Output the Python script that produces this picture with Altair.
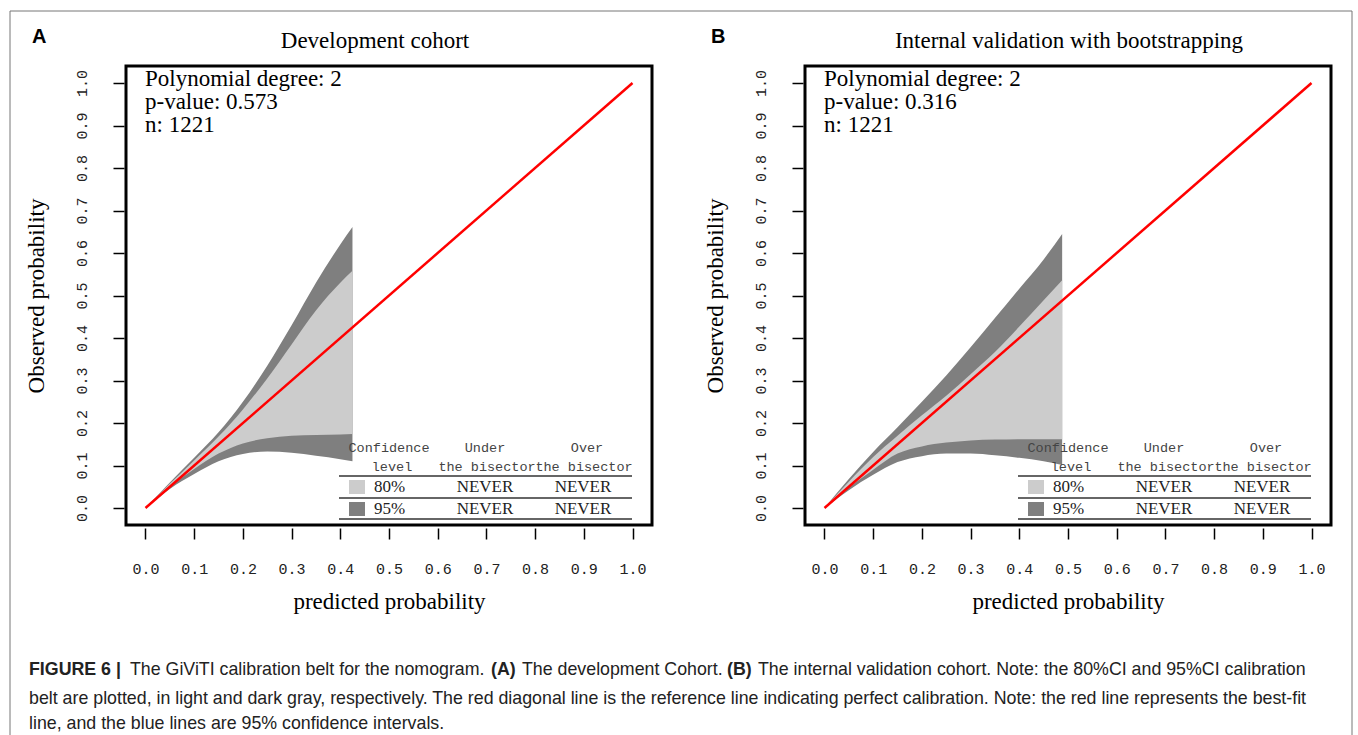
import altair as alt
import pandas as pd

# ---------------- data ----------------
tick_values = [0.0, 0.1, 0.2, 0.3, 0.4, 0.5, 0.6, 0.7, 0.8, 0.9, 1.0]
ref_x = [0.0, 1.0]
ref_y = [0.0, 1.0]

# Panel A: Development cohort (calibration belt)
a_x    = [0.0, 0.05, 0.10, 0.15, 0.20, 0.25, 0.30, 0.35, 0.40, 0.425]
a_up95 = [0.0, 0.060, 0.118, 0.178, 0.250, 0.335, 0.430, 0.530, 0.620, 0.661]
a_up80 = [0.0, 0.057, 0.112, 0.168, 0.232, 0.305, 0.385, 0.465, 0.530, 0.558]
a_lo80 = [0.0, 0.050, 0.092, 0.128, 0.152, 0.164, 0.170, 0.172, 0.173, 0.174]
a_lo95 = [0.0, 0.045, 0.080, 0.110, 0.127, 0.133, 0.130, 0.123, 0.115, 0.110]

# Panel B: Internal validation with bootstrapping
b_x    = [0.0, 0.05, 0.10, 0.15, 0.20, 0.25, 0.30, 0.35, 0.40, 0.45, 0.488]
b_up95 = [0.0, 0.068, 0.132, 0.190, 0.250, 0.312, 0.378, 0.447, 0.516, 0.585, 0.645]
b_up80 = [0.0, 0.062, 0.120, 0.170, 0.218, 0.264, 0.315, 0.367, 0.427, 0.489, 0.536]
b_lo80 = [0.0, 0.048, 0.090, 0.128, 0.145, 0.154, 0.159, 0.161, 0.162, 0.162, 0.162]
b_lo95 = [0.0, 0.042, 0.078, 0.108, 0.122, 0.128, 0.128, 0.124, 0.118, 0.110, 0.101]

titles = ["Development cohort", "Internal validation with bootstrapping"]
letters = ["A", "B"]
stats_a = ["Polynomial degree: 2", "p-value: 0.573", "n: 1221"]
stats_b = ["Polynomial degree: 2", "p-value: 0.316", "n: 1221"]
legend_head = ["Confidence", "level", "Under", "the bisector", "Over", "the bisector"]
legend_levels = ["80%", "95%"]
legend_under = ["NEVER", "NEVER"]
legend_over = ["NEVER", "NEVER"]
caption = [
    "FIGURE 6 |",
    "The GiViTI calibration belt for the nomogram.",
    "(A)",
    "The development Cohort.",
    "(B)",
    "The internal validation cohort. Note: the 80%CI and 95%CI calibration",
    "belt are plotted, in light and dark gray, respectively. The red diagonal line is the reference line indicating perfect calibration. Note: the red line represents the best-fit",
    "line, and the blue lines are 95% confidence intervals.",
]

W, H = 526, 459
SERIF = "Liberation Serif"
MONO = "Liberation Mono"
SANS = "Liberation Sans"

xscale = alt.Scale(domain=[-0.04, 1.04], nice=False, zero=False)
yscale = alt.Scale(domain=[-0.04, 1.04], nice=False, zero=False)

xaxis = alt.Axis(values=tick_values, format=".1f", title="predicted probability",
                 domain=False, grid=False, tickSize=11, tickWidth=1.5, tickColor="black",
                 offset=3, labelFont=MONO, labelFontSize=15, labelColor="#222",
                 labelPadding=22, labelFlush=False, labelOverlap=False,
                 titleFont=SERIF, titleFontSize=23, titleFontWeight="normal",
                 titleColor="black", titlePadding=14)
yaxis = alt.Axis(values=tick_values, format=".1f", title="Observed probability",
                 domain=False, grid=False, tickSize=11, tickWidth=1.5, tickColor="black",
                 offset=2, labelFont=MONO, labelFontSize=15, labelColor="#222",
                 labelAngle=270, labelAlign="center", labelBaseline="bottom",
                 labelPadding=24, labelFlush=False, labelOverlap=False,
                 titleFont=SERIF, titleFontSize=23, titleFontWeight="normal",
                 titleColor="black", titlePadding=26)


def X(f):
    return alt.X(f, type="quantitative", scale=xscale, axis=xaxis)


def Y(f):
    return alt.Y(f, type="quantitative", scale=yscale, axis=yaxis)


ONE = pd.DataFrame({"k": [0]})


def txt(s, x, y, size, font, color="black", align="left", weight="normal"):
    return alt.Chart(pd.DataFrame({"t": [s]})).mark_text(
        align=align, baseline="middle", font=font, fontSize=size,
        color=color, fontWeight=weight).encode(
        x=alt.value(x), y=alt.value(y), text="t:N")


def hline(x1, x2, y, color="#333", w=1.5):
    return alt.Chart(ONE).mark_rule(color=color, strokeWidth=w).encode(
        x=alt.value(x1), x2=alt.value(x2), y=alt.value(y))


def vline(x, y1, y2, color="#333", w=1.5):
    return alt.Chart(ONE).mark_rule(color=color, strokeWidth=w).encode(
        x=alt.value(x), y=alt.value(y1), y2=alt.value(y2))


def box(x1, x2, y1, y2, color):
    return alt.Chart(ONE).mark_rect(color=color).encode(
        x=alt.value(x1), x2=alt.value(x2), y=alt.value(y1), y2=alt.value(y2))


def panel(xs, up95, up80, lo80, lo95, title, letter, stats, title_x, extra):
    belt = pd.DataFrame({"x": xs, "up95": up95, "up80": up80, "lo80": lo80, "lo95": lo95})
    ref = pd.DataFrame({"x": ref_x, "ry": ref_y})
    dark = alt.Chart(belt).mark_area(color="#7f7f7f", opacity=1, interpolate="monotone").encode(
        x=X("x"), y=Y("up95"), y2=alt.Y2("lo95"))
    light = alt.Chart(belt).mark_area(color="#cccccc", opacity=1, interpolate="monotone").encode(
        x=X("x"), y=Y("up80"), y2=alt.Y2("lo80"))
    red = alt.Chart(ref).mark_line(color="#ff0000", strokeWidth=2.5).encode(
        x=X("x"), y=Y("ry"))

    layers = [dark, light, red]
    layers.append(txt(title, title_x, -25, 23, SERIF, align="center"))
    layers.append(txt(letter, -94, -29, 20, SANS, weight="bold"))
    for i, s in enumerate(stats):
        layers.append(txt(s, 19, 13 + 23 * i, 23, SERIF))
    hc = "#333"
    layers.append(txt(legend_head[0], 263, 382, 13.5, MONO, color="#444", align="center"))
    layers.append(txt(legend_head[1], 266, 401, 13.5, MONO, color="#444", align="center"))
    layers.append(txt(legend_head[2], 359, 382, 13.5, MONO, color="#444", align="center"))
    layers.append(txt(legend_head[3], 361, 401, 13.5, MONO, color="#444", align="center"))
    layers.append(txt(legend_head[4], 461, 382, 13.5, MONO, color="#444", align="center"))
    layers.append(txt(legend_head[5], 458, 401, 13.5, MONO, color="#444", align="center"))
    for yy in [410, 432, 453]:
        layers.append(hline(213, 506, yy, color=hc))
    swatch = ["#cccccc", "#7f7f7f"]
    for i in range(2):
        yc = 421 + 22 * i
        layers.append(box(223, 239, yc - 7, yc + 7, swatch[i]))
        layers.append(txt(legend_levels[i], 248, yc, 17, SERIF, color="#222"))
        layers.append(txt(legend_under[i], 359, yc, 17, SERIF, color="#222", align="center"))
        layers.append(txt(legend_over[i], 457, yc, 17, SERIF, color="#222", align="center"))
    layers.extend(extra)
    return alt.layer(*layers).properties(width=W, height=H)


# outer figure frame and caption (offsets relative to the left panel's plot area)
frame_c = "#777"
CS = 17.8
CC = "#222"
extra_a = [
    hline(-116, 1226, -55, color=frame_c, w=1),
    vline(-116, -55, 669, color=frame_c, w=1),
    vline(1226, -55, 669, color=frame_c, w=1),
    txt(caption[0], -97, 604, CS, SANS, color=CC, weight="bold"),
    txt(caption[1], 4, 604, CS, SANS, color=CC),
    txt(caption[2], 365, 604, CS, SANS, color=CC, weight="bold"),
    txt(caption[3], 396, 604, CS, SANS, color=CC),
    txt(caption[4], 601, 604, CS, SANS, color=CC, weight="bold"),
    txt(caption[5], 632, 604, CS, SANS, color=CC),
    txt(caption[6], -97, 633, CS, SANS, color=CC),
    txt(caption[7], -97, 658, CS, SANS, color=CC),
]

pa = panel(a_x, a_up95, a_up80, a_lo80, a_lo95, titles[0], letters[0], stats_a, 249, extra_a)
pb = panel(b_x, b_up95, b_up80, b_lo80, b_lo95, titles[1], letters[1], stats_b, 264, [])

chart = alt.hconcat(pa, pb, spacing=153, bounds="flush").properties(
    padding={"left": 8, "top": 9, "right": 0, "bottom": 0},
    background="white",
).configure_view(stroke="black", strokeWidth=3)

chart.save("out.html", embed_options={"renderer": "svg", "actions": False})
